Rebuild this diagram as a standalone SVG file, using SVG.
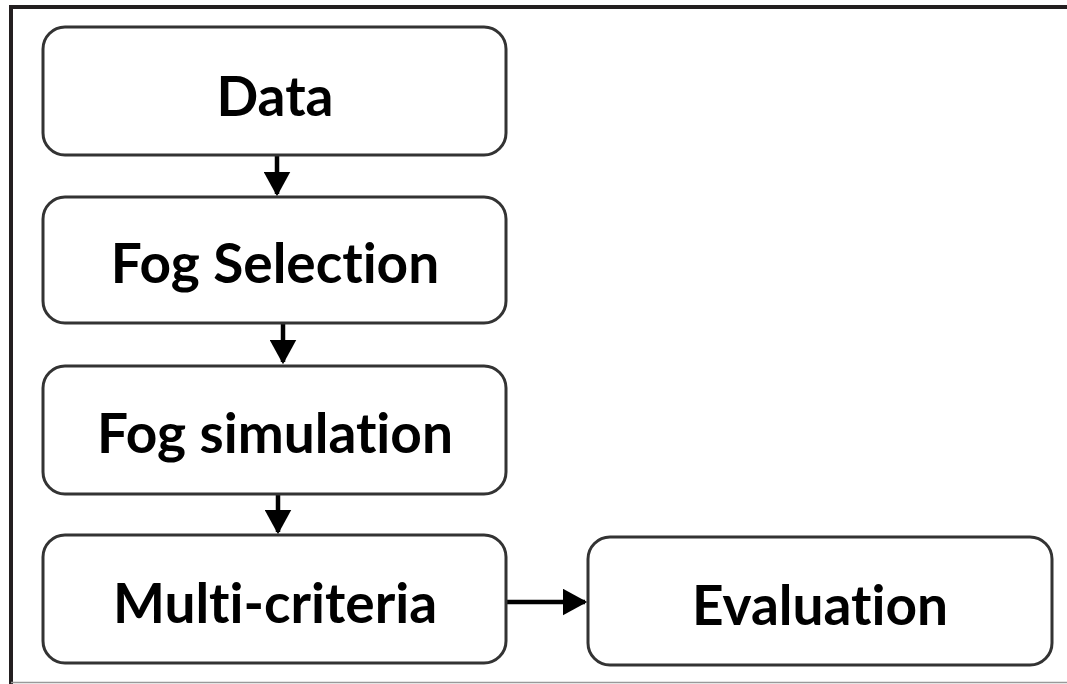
<svg xmlns="http://www.w3.org/2000/svg" width="1067" height="684" viewBox="0 0 1067 684">
<defs>
<style>
.box{fill:#fff;stroke:#333;stroke-width:3}
.lbl{font-family:Lato,"Open Sans","Liberation Sans",sans-serif;font-weight:bold;font-size:55px;fill:#000;text-anchor:middle;dominant-baseline:central;font-variant-ligatures:none}
.conn{stroke:#000;stroke-width:4.5;fill:none}
</style>
<marker id="ah" markerWidth="6" markerHeight="6" refX="5" refY="3" orient="auto" markerUnits="strokeWidth">
<path d="M0,0 L5.5,3 L0,6 z" fill="#000"/>
</marker>
</defs>
<rect x="0" y="0" width="1067" height="684" fill="#fff"/>
<g id="frame">
<path d="M11,684 L11,7 L1067,7" fill="none" stroke="#231f20" stroke-width="4"/>
<line x1="11" y1="682.5" x2="1067" y2="682.5" stroke="#999" stroke-width="1.5"/>
</g>
<g id="connectors">
<line class="conn" x1="277" y1="156" x2="277" y2="194" marker-end="url(#ah)"/>
<line class="conn" x1="283" y1="324" x2="283" y2="362" marker-end="url(#ah)"/>
<line class="conn" x1="278" y1="494" x2="278" y2="532" marker-end="url(#ah)"/>
<line class="conn" x1="507" y1="602" x2="585" y2="602" marker-end="url(#ah)"/>
</g>
<g id="data"><rect class="box" x="43" y="27" width="463" height="128" rx="22"/><text class="lbl" x="275" y="95">Data</text></g>
<g id="fog-selection"><rect class="box" x="43" y="197" width="463" height="126" rx="22"/><text class="lbl" x="275" y="262">Fog Selection</text></g>
<g id="fog-simulation"><rect class="box" x="43" y="366" width="463" height="128" rx="22"/><text class="lbl" x="275" y="432">Fog simulation</text></g>
<g id="multi-criteria"><rect class="box" x="43" y="535" width="463" height="128" rx="22"/><text class="lbl" x="275" y="602">Multi-criteria</text></g>
<g id="evaluation"><rect class="box" x="588" y="537" width="464" height="128" rx="22"/><text class="lbl" x="820" y="604">Evaluation</text></g>
</svg>
